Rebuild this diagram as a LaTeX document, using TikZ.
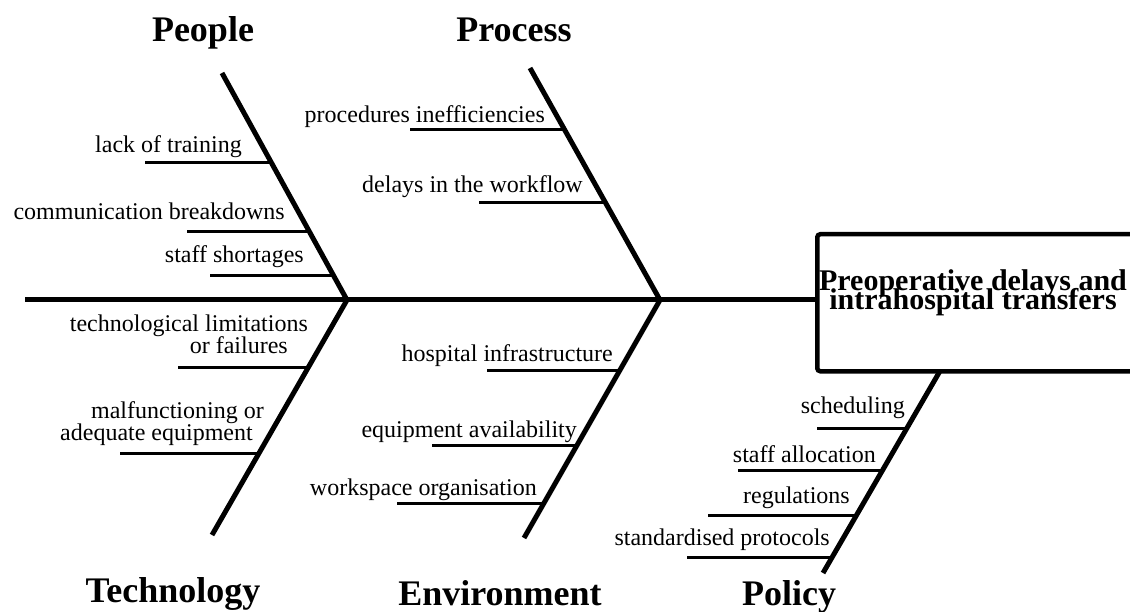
\documentclass[tikz,border=0pt]{standalone}
\usepackage{fontspec}
\setmainfont{Liberation Serif}
\newcommand\tightlines{\lineskiplimit=-100pt\relax}
\begin{document}
\begin{tikzpicture}[x=1pt,y=-1pt,
  bone/.style={line width=5pt},
  twig/.style={line width=3pt},
  cause/.style={anchor=base east,inner sep=0pt,font={\fontsize{24}{21.5}\selectfont\tightlines}},
  head/.style={anchor=base,inner sep=0pt,font={\fontsize{36}{40}\selectfont\bfseries}}]
\useasboundingbox (0,0) rectangle (1130,612);
% effect box
\node[draw,line width=4.5pt,rounded corners=3pt,minimum width=330pt,minimum height=137pt,anchor=north west,inner sep=0pt] (effect) at (815,232) {};
\node[anchor=base,align=center,inner sep=0pt,font={\fontsize{30}{19}\selectfont\bfseries\tightlines}] (effecttext) at (973,310) {Preoperative delays and\\intrahospital transfers};
% spine
\coordinate (tail) at (25,300);
\coordinate (j1) at (347,300);
\coordinate (j2) at (660,300);
\draw[bone] (tail) -- (effect.west |- tail);
% bones
\coordinate (peopletop) at (222,73);
\coordinate (processtop) at (530,68);
\coordinate (techbot) at (212,535);
\coordinate (envbot) at (524,538);
\coordinate (policytop) at (940,371);
\coordinate (policybot) at (823,573);
\draw[bone] (peopletop) -- (j1);
\draw[bone] (processtop) -- (j2);
\draw[bone] (j1) -- (techbot);
\draw[bone] (j2) -- (envbot);
\draw[bone] (policytop) -- (policybot);
% headings
\node[head] (people) at (203,42) {People};
\node[head] (process) at (514,42) {Process};
\node[head] (technology) at (173,602) {Technology};
\node[head] (environment) at (500,605) {Environment};
\node[head] (policy) at (789,605) {Policy};
% People causes
\node[cause] (c1) at (242,153) {lack of training};
\coordinate (c1a) at (145,163); \coordinate (c1b) at (271,163);
\draw[twig] (c1a) -- (c1b);
\node[cause] (c2) at (285,220) {communication breakdowns};
\coordinate (c2a) at (187,232); \coordinate (c2b) at (309,232);
\draw[twig] (c2a) -- (c2b);
\node[cause] (c3) at (304,263) {staff shortages};
\coordinate (c3a) at (210,276); \coordinate (c3b) at (333,276);
\draw[twig] (c3a) -- (c3b);
% Process causes
\node[cause] (c4) at (545,123) {procedures inefficiencies};
\coordinate (c4a) at (410,130); \coordinate (c4b) at (564,130);
\draw[twig] (c4a) -- (c4b);
\node[cause] (c5) at (583,193) {delays in the workflow};
\coordinate (c5a) at (479,203); \coordinate (c5b) at (605,203);
\draw[twig] (c5a) -- (c5b);
% Technology causes
\node[cause,align=right] (c6) at (308,353) {technological limitations\\or failures\kern20pt};
\coordinate (c6a) at (178,367); \coordinate (c6e) at (308,367);
\draw[twig] (c6a) -- (c6e);
\node[cause,align=right] (c7) at (264,440) {malfunctioning or\\adequate equipment\kern11pt};
\coordinate (c7a) at (120,453); \coordinate (c7e) at (259,453);
\draw[twig] (c7a) -- (c7e);
% Environment causes
\node[cause] (c8) at (613,362) {hospital infrastructure};
\coordinate (c8a) at (487,370); \coordinate (c8b) at (620,370);
\draw[twig] (c8a) -- (c8b);
\node[cause] (c9) at (577,437) {equipment availability};
\coordinate (c9a) at (432,445); \coordinate (c9b) at (577,445);
\draw[twig] (c9a) -- (c9b);
\node[cause] (c10) at (537,495) {workspace organisation};
\coordinate (c10a) at (397,503); \coordinate (c10b) at (544,503);
\draw[twig] (c10a) -- (c10b);
% Policy causes
\node[cause] (c11) at (905,413) {scheduling};
\coordinate (c11a) at (817,428); \coordinate (c11b) at (908,428);
\draw[twig] (c11a) -- (c11b);
\node[cause] (c12) at (876,462) {staff allocation};
\coordinate (c12a) at (738,470); \coordinate (c12b) at (883,470);
\draw[twig] (c12a) -- (c12b);
\node[cause] (c13) at (850,503) {regulations};
\coordinate (c13a) at (708,515); \coordinate (c13b) at (857,515);
\draw[twig] (c13a) -- (c13b);
\node[cause] (c14) at (830,545) {standardised protocols};
\coordinate (c14a) at (687,557); \coordinate (c14b) at (832,557);
\draw[twig] (c14a) -- (c14b);
\end{tikzpicture}
\end{document}
